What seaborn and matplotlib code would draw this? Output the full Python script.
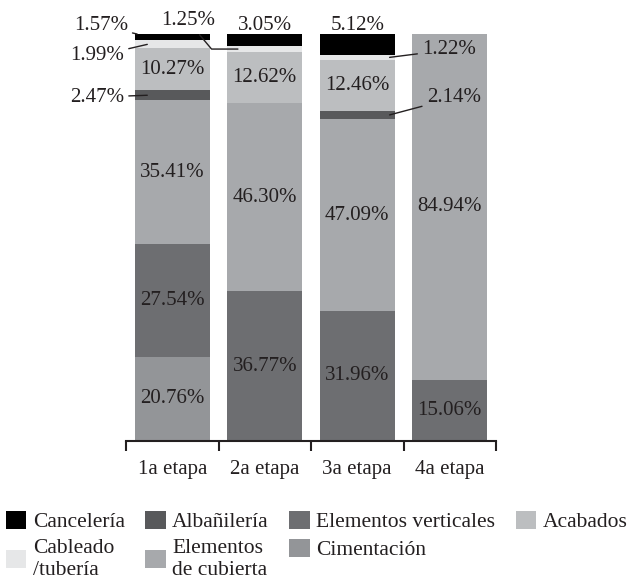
import numpy as np
import pandas as pd
import seaborn as sns
import matplotlib.pyplot as plt
from matplotlib.patches import Patch

sns.set_theme(style="white")
plt.rcParams["font.family"] = ["Liberation Serif", "DejaVu Serif"]

# Data (percent of each stage), stacked bottom -> top
stages = ["1a etapa", "2a etapa", "3a etapa", "4a etapa"]
layers = ["Cimentación", "Elementos verticales", "Elementos de cubierta",
          "Albañilería", "Acabados", "Cableado\n/tubería", "Cancelería"]
cimentacion = [20.76, 0, 0, 0]
elem_verticales = [27.54, 36.77, 31.96, 15.06]
elem_cubierta = [35.41, 46.30, 47.09, 84.94]
albanileria = [2.47, 0, 2.14, 0]
acabados = [10.27, 12.62, 12.46, 0]
cableado = [1.99, 1.25, 1.22, 0]
canceleria = [1.57, 3.05, 5.12, 0]

colors = ["#939598", "#6d6e71", "#a7a9ac", "#58595b", "#bcbec0", "#e6e7e8", "#000000"]
txt = "#231f20"
fs = 15

df = pd.DataFrame([cimentacion, elem_verticales, elem_cubierta, albanileria,
                   acabados, cableado, canceleria], index=layers, columns=stages)
cum = df.cumsum()

fig = plt.figure(figsize=(6.31, 5.82), dpi=100)
ax = fig.add_axes([126 / 631, 1 - 441 / 582, 370 / 631, 407 / 582])

# draw cumulative totals from the top layer down so each one overlaps the next
for layer, col in reversed(list(zip(layers, colors))):
    sns.barplot(x=stages, y=cum.loc[layer].values, color=col, width=0.81,
                saturation=1, edgecolor="none", linewidth=0, ax=ax)

# labels inside the big segments
for i, st in enumerate(stages):
    for layer in layers[:-1]:
        v = df.loc[layer, st]
        if v >= 5:
            mid = cum.loc[layer, st] - v / 2
            ax.text(i, mid, f"{v:.2f}%", ha="center", va="center",
                    fontsize=fs, color=txt)

# labels on top of the bars
for i in [1, 2]:
    ax.text(i, 102.0, f"{df.loc['Cancelería', stages[i]]:.2f}%", ha="center",
            va="center", fontsize=fs, color=txt, clip_on=False)

# callouts for the small segments
callouts = [
    (0, "Cancelería", (-0.38, 100.0), (-0.48, 102.0), "right", "arc3"),
    (0, "Cableado\n/tubería", (-0.27, 97.45), (-0.52, 94.6), "right", "arc3"),
    (0, "Albañilería", (-0.27, 84.95), (-0.52, 84.5), "right", "arc3"),
    (1, "Cableado\n/tubería", (0.71, 96.3), (0.17, 103.2), "center",
     "angle,angleA=-50,angleB=0,rad=0"),
    (2, "Cableado\n/tubería", (2.35, 94.26), (2.70, 96.1), "left", "arc3"),
    (2, "Albañilería", (2.35, 80.12), (2.75, 84.3), "left", "arc3"),
]
for i, layer, xy, xyt, ha, conn in callouts:
    ax.annotate(f"{df.loc[layer, stages[i]]:.2f}%", xy=xy, xytext=xyt,
                ha=ha, va="center", fontsize=fs, color=txt,
                annotation_clip=False,
                arrowprops=dict(arrowstyle="-", color=txt, lw=1,
                                shrinkA=1, shrinkB=0, connectionstyle=conn))

ax.set_xlim(-0.5, 3.5)
ax.set_ylim(0, 100)
ax.set_yticks([])
ax.set_xlabel("")
ax.set_ylabel("")
for s in ["top", "right", "left"]:
    ax.spines[s].set_visible(False)
ax.spines["bottom"].set_color(txt)
ax.spines["bottom"].set_linewidth(1.5)
ax.set_xticks(range(len(stages)))
ax.set_xticklabels(stages, fontsize=fs, color=txt)
ax.set_xticks(np.arange(-0.5, 4, 1), minor=True)
ax.tick_params(axis="x", which="major", length=0, pad=14)
ax.tick_params(axis="x", which="minor", length=7, width=1.5, color=txt,
               direction="out", bottom=True)

# legend (column-wise order)
order = ["Cancelería", "Cableado\n/tubería", "Albañilería", "Elementos\nde cubierta",
         "Elementos verticales", "Cimentación", "Acabados"]
col_of = dict(zip(layers, colors))
col_of["Elementos\nde cubierta"] = col_of["Elementos de cubierta"]
handles = [Patch(facecolor=col_of[n], edgecolor="none") for n in order]
leg = fig.legend(handles, order, loc="upper left", bbox_to_anchor=(6 / 631, 1 - 511 / 582),
                 ncol=4, frameon=False, fontsize=15.5, handlelength=0.95, handleheight=0.9,
                 handletextpad=0.3, columnspacing=0.95, borderpad=0, borderaxespad=0,
                 labelspacing=0.3, labelcolor=txt)
for t in leg.get_texts():
    t.set_linespacing(1.25)

fig.savefig("out.png", dpi=100)
